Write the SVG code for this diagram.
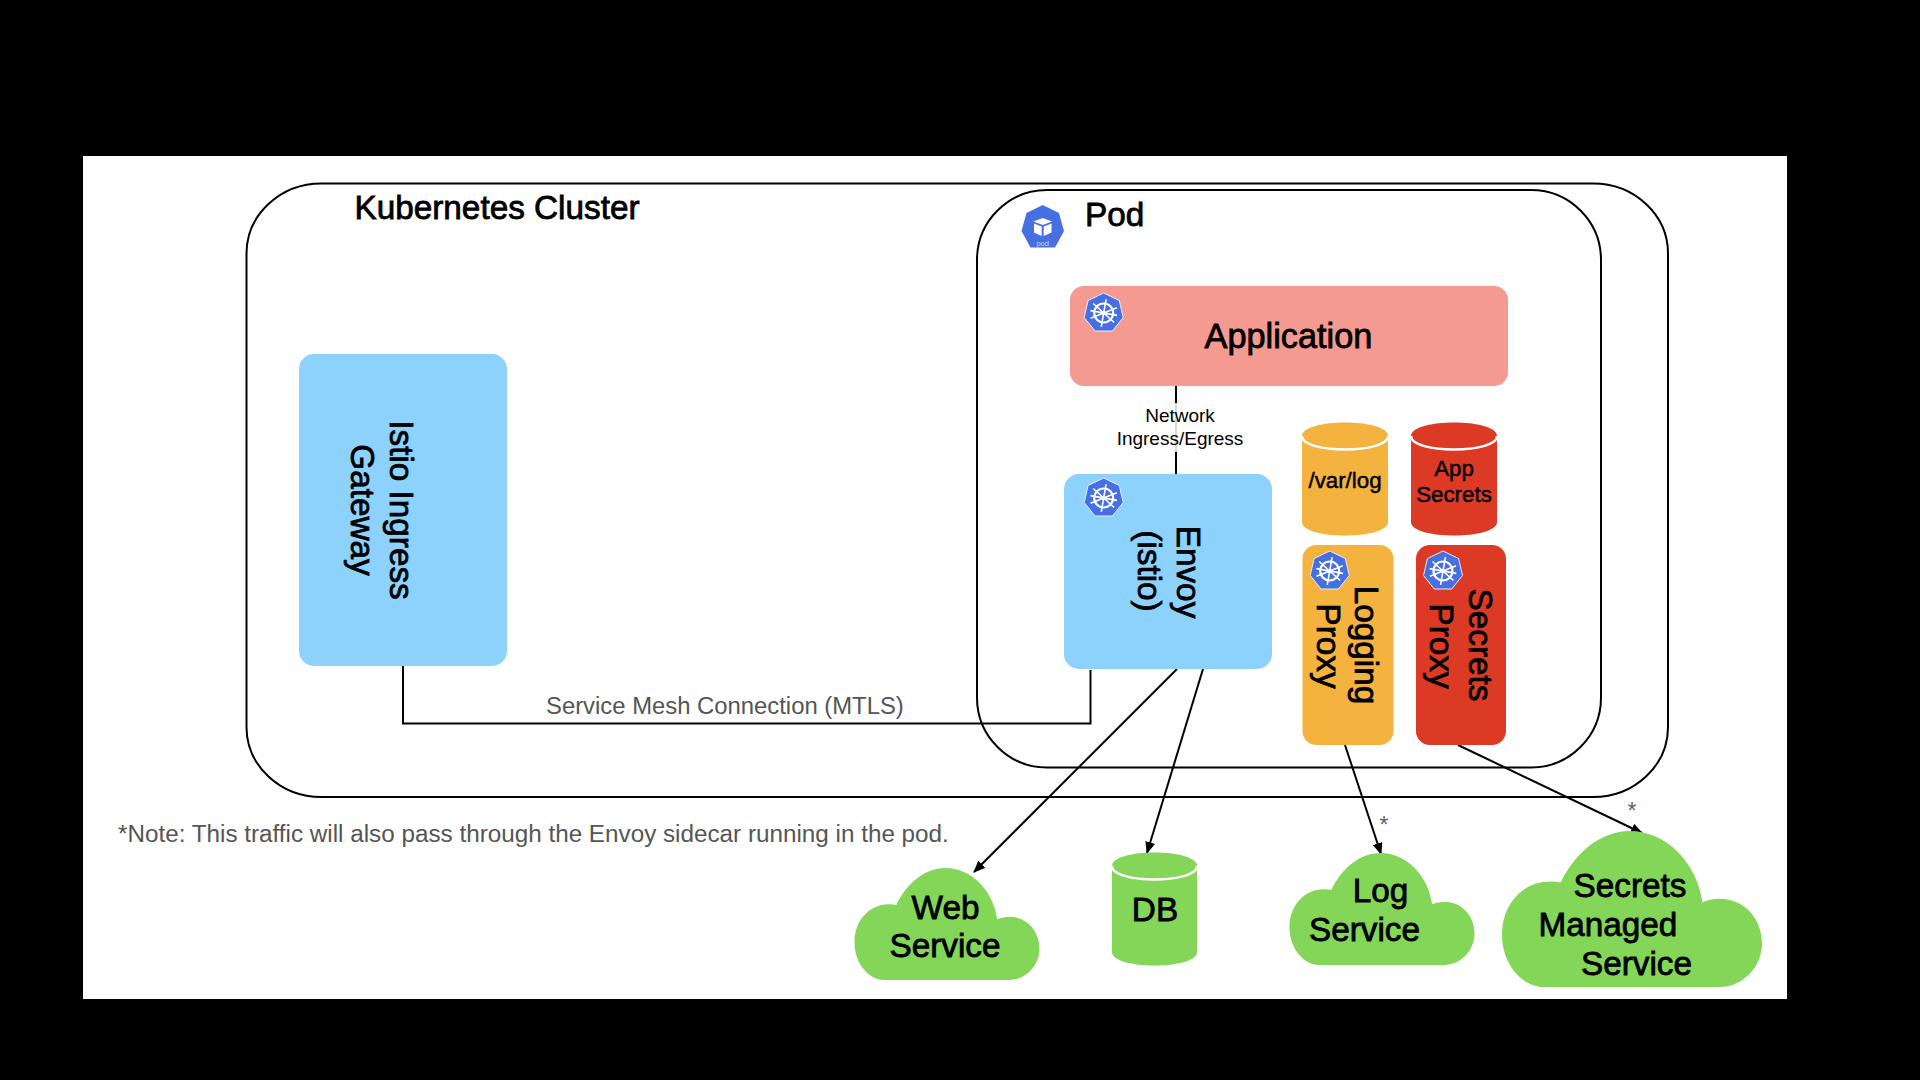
<svg xmlns="http://www.w3.org/2000/svg" xmlns:xlink="http://www.w3.org/1999/xlink" width="1920" height="1080" viewBox="0 0 1920 1080">
<style>
text{font-family:"Liberation Sans",Arial,sans-serif;fill:#000}
.b{font-size:33.300px;stroke:#000;stroke-width:.8px}
.m{font-size:22.300px;stroke:#000;stroke-width:.45px}
.g{font-size:23.850px;fill:#555}
.n{font-size:19px}
.s{font-size:23px;fill:#666}
.c{text-anchor:middle}
.frame{fill:none;stroke:#000;stroke-width:2}
.wire{fill:none;stroke:#000;stroke-width:2}
.lid{stroke:#fff;stroke-width:2.5}
</style>
<defs>
<marker id="ah" viewBox="0 0 12 10" refX="11" refY="5" markerWidth="12" markerHeight="10" markerUnits="userSpaceOnUse" orient="auto"><path d="M0 0L12 5L0 10Z" fill="#000"/></marker>
<path id="cloud" d="M16.4 100C7 100 0 84 0 66.5C0 47 8 32.4 18.4 32.4Q20.5 32.2 22.6 33C28 14 38 0 49.2 0C63 0 75 20 77.1 45.8Q80 43.5 83.8 43.5C93 43.5 100 56 100 71.9C100 88 92 100 83.8 100Z"/>
<g id="wheel">
<path d="M0-20L15.6-12.5L19.5 4.5L8.7 18L-8.7 18L-19.5 4.5L-15.6-12.5Z" fill="#466fe2" stroke="#e8eefc" stroke-width="1"/>
<g fill="none" stroke="#fff">
<circle r="9.5" stroke-width="2.2"/>
<circle r="2" fill="#fff" stroke="none"/>
<path stroke-width="1.6" d="M0-14V14M-12-7.5L12 7.5M12-7.5L-12 7.5M-13.5 0H13.5" transform="rotate(10)"/>
</g>
</g>
</defs>
<rect width="1920" height="1080" fill="#000"/>
<rect x="83" y="156" width="1704" height="843" fill="#fff"/>

<g id="cluster"><rect class="frame" x="246.500" y="183.500" width="1421.500" height="613.500" rx="75" ry="70"/><text class="b" x="354.500" y="219">Kubernetes Cluster</text></g>
<g id="pod"><rect class="frame" x="977" y="190" width="624" height="577.500" rx="70" ry="70"/>
<path d="M1042.700 205L1059 213L1064 231L1055 247.500H1030.500L1021.500 231L1026.500 213Z" fill="#466fe2"/>
<path d="M1042.700 218L1033.500 221.500L1042.700 225L1052 221.500Z" fill="#fff"/><path d="M1034 223.500L1041.700 226.500V236L1034 232.500ZM1051.500 223.500L1043.700 226.500V236L1051.500 232.500Z" fill="#fff"/>
<text x="1042.700" y="246" class="c" style="font-size:7.500px;fill:#cfdcfa">pod</text>
<text class="b" x="1085" y="226">Pod</text></g>

<g id="connectors">
<path class="wire" d="M1176 386V474"/>
<rect x="1110" y="403" width="140" height="49" fill="#fff" opacity=".85"/>
<path class="wire" d="M403 666V723.500H1090.500V670"/>
<path class="wire" marker-end="url(#ah)" d="M1177 669L974 872"/>
<path class="wire" marker-end="url(#ah)" d="M1203 669L1147 853"/>
<path class="wire" marker-end="url(#ah)" d="M1345 745L1381 854"/>
<path class="wire" marker-end="url(#ah)" d="M1458 745L1642 833"/>
<text class="n c" x="1180" y="422">Network</text>
<text class="n c" x="1180" y="445">Ingress/Egress</text>
<text class="g" x="546" y="714">Service Mesh Connection (MTLS)</text>
<text class="s c" x="1384" y="833">*</text>
<text class="s c" x="1632" y="819">*</text>
</g>

<g id="note"><text class="g" x="118" y="842" style="font-size:24.250px">*Note: This traffic will also pass through the Envoy sidecar running in the pod.</text></g>

<g id="gateway"><rect x="299" y="354" width="208" height="312" rx="15" fill="#8dd2fd"/>
<text class="b c" transform="translate(390 510) rotate(90)">Istio Ingress</text>
<text class="b c" transform="translate(351 510) rotate(90)">Gateway</text></g>

<g id="application"><rect x="1070" y="286" width="438" height="100" rx="14" fill="#f49a90"/>
<use href="#wheel" x="1103.700" y="313"/>
<text class="b c" x="1288.500" y="348" style="font-size:34.300px">Application</text></g>

<g id="envoy"><rect x="1064" y="474" width="208" height="195" rx="15" fill="#8dd2fd"/>
<use href="#wheel" x="1103.700" y="498"/>
<text class="b c" transform="translate(1176.500 572) rotate(90)">Envoy</text>
<text class="b c" transform="translate(1138 571) rotate(90)">(istio)</text></g>

<g id="varlog"><path d="M1302 436C1302 418 1388 418 1388 436V522C1388 540 1302 540 1302 522Z" fill="#f3b33e"/>
<path class="lid" fill="none" d="M1302 436C1302 454 1388 454 1388 436"/>
<text class="m c" x="1345" y="488">/var/log</text></g>

<g id="appsecrets"><path d="M1411 436C1411 418 1497 418 1497 436V522C1497 540 1411 540 1411 522Z" fill="#dc3a25"/>
<path class="lid" fill="none" d="M1411 436C1411 454 1497 454 1497 436"/>
<text class="m c" x="1454" y="476">App</text><text class="m c" x="1454" y="502">Secrets</text></g>

<g id="loggingproxy"><rect x="1302.500" y="545" width="91" height="200" rx="14" fill="#f3b33e"/>
<use href="#wheel" x="1329.700" y="571"/>
<text class="b c" transform="translate(1354.500 645) rotate(90)">Logging</text>
<text class="b c" transform="translate(1317 646) rotate(90)">Proxy</text></g>

<g id="secretsproxy"><rect x="1416" y="545" width="90" height="200" rx="14" fill="#dc3a25"/>
<use href="#wheel" x="1443" y="571"/>
<text class="b c" transform="translate(1468.500 645) rotate(90)">Secrets</text>
<text class="b c" transform="translate(1430 646) rotate(90)">Proxy</text></g>

<g id="webservice"><use href="#cloud" fill="#83d657" transform="translate(854.500 868) scale(1.85 1.12)"/>
<text class="b c" x="945.500" y="918.500">Web</text><text class="b c" x="945" y="957">Service</text></g>

<g id="db"><path d="M1112 866C1112 848 1197 848 1197 866V952C1197 970 1112 970 1112 952Z" fill="#83d657"/>
<path class="lid" fill="none" d="M1112 866C1112 884 1197 884 1197 866"/>
<text class="b c" x="1155" y="921">DB</text></g>

<g id="logservice"><use href="#cloud" fill="#83d657" transform="translate(1289.500 853) scale(1.85 1.12)"/>
<text class="b c" x="1380.500" y="902">Log</text><text class="b c" x="1364.500" y="940.500">Service</text></g>

<g id="secretsservice"><use href="#cloud" fill="#83d657" transform="translate(1502 831) scale(2.6 1.56)"/>
<text class="b" x="1573.500" y="897">Secrets</text><text class="b" x="1538.500" y="936">Managed</text><text class="b" x="1581" y="975">Service</text></g>
</svg>
